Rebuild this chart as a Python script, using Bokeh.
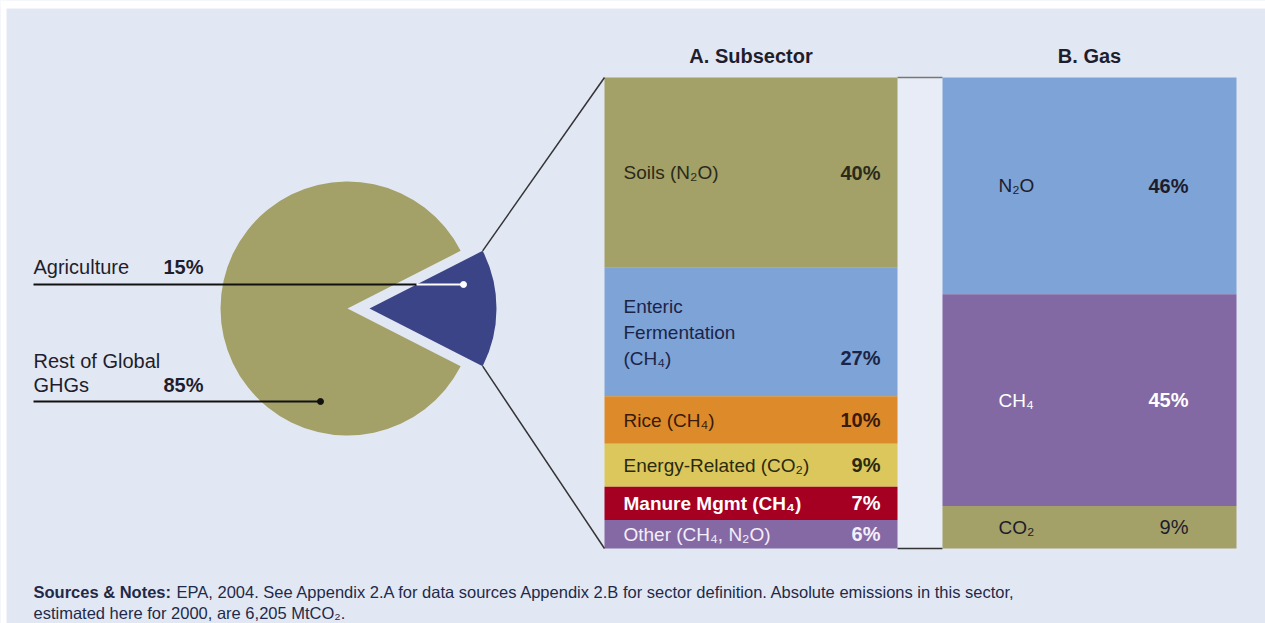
import math
from bokeh.plotting import figure
from bokeh.models import Range1d, ColumnDataSource
from bokeh.core.properties import value
from bokeh.embed import file_html
from bokeh.resources import INLINE

# ---------------- data ----------------
pie_labels = ["Agriculture", "Rest of Global\nGHGs"]
pie_values = [15, 85]

sub_labels = ["Soils (N₂O)", "Enteric\nFermentation\n(CH₄)", "Rice (CH₄)",
              "Energy-Related (CO₂)", "Manure Mgmt (CH₄)", "Other (CH₄, N₂O)"]
sub_values = [40, 27, 10, 9, 7, 6]

gas_labels = ["N₂O", "CH₄", "CO₂"]
gas_values = [46, 45, 9]

titles = ["A. Subsector", "B. Gas"]
note_bold = "Sources & Notes:"
note_lines = ["EPA, 2004. See Appendix 2.A for data sources Appendix 2.B for sector definition. Absolute emissions in this sector,",
              "estimated here for 2000, are 6,205 MtCO₂."]

# ---------------- styles ----------------
BG = "#e2e8f3"
FONT = "Liberation Sans"
OLIVE = "#a3a068"
NAVY = "#3a4487"
sub_colors = [OLIVE, "#7ea3d6", "#dd8a2b", "#dcc75c", "#a50022", "#8569a4"]
sub_text = ["#2a2a1a", "#1b2447", "#3a1a08", "#2a2a10", "#ffffff", "#f3eefa"]
sub_label_bold = [False, False, False, False, True, False]
gas_colors = ["#7ea3d6", "#8369a3", OLIVE]
gas_text = ["#1c1c2c", "#ffffff", "#1c1c2c"]
gas_pct_bold = [True, True, False]
DARK = "#1e1e2e"

W, H = 1265, 623
def py(page_y):
    return H - page_y

p = figure(width=W, height=H, x_range=Range1d(0, W), y_range=Range1d(0, H),
           output_backend="svg", toolbar_location=None, min_border=0,
           x_axis_type=None, y_axis_type=None)
p.grid.visible = False
p.outline_line_color = None
p.background_fill_color = BG
p.border_fill_color = "#ffffff"

# white page margin strips as in the reference
p.quad(left=[0, 0], right=[6, W], bottom=[0, py(8)], top=[H, H], fill_color="#ffffff", line_color=None)

# bar ranges (percent scale mapped onto bar extent)
BAR_TOP, BAR_BOT = 77, 548
def pct_range(total):
    ppu = (BAR_BOT - BAR_TOP) / total
    return Range1d(-(H - BAR_BOT) / ppu, total + BAR_TOP / ppu)

p.extra_y_ranges = {"A": pct_range(sum(sub_values)), "B": pct_range(sum(gas_values))}

def stack(vals):
    acc = sum(vals)
    tops, bots = [], []
    for v in vals:
        tops.append(acc)
        acc -= v
        bots.append(acc)
    return tops, bots

A_L, A_R = 604, 897
B_L, B_R = 942, 1236
tA, bA = stack(sub_values)
tB, bB = stack(gas_values)

# gap panel between bars
p.quad(left=[A_R], right=[B_L], top=[sum(sub_values)], bottom=[0], fill_color="#e7ecf6",
       line_color=None, y_range_name="A")
p.segment(x0=[A_R], x1=[B_L], y0=[sum(sub_values)], y1=[sum(sub_values)], line_color="#777777",
          line_width=1.5, y_range_name="A")
p.segment(x0=[A_R], x1=[B_L], y0=[0], y1=[0], line_color="#333333", line_width=1.5, y_range_name="A")

p.quad(left=A_L, right=A_R, top=tA, bottom=bA, fill_color=sub_colors, line_color=None, y_range_name="A")
p.quad(left=B_L, right=B_R, top=tB, bottom=bB, fill_color=gas_colors, line_color=None, y_range_name="B")

def add_text(items, rng=None, align="left", bold=False, size="19px"):
    if not items:
        return
    src = ColumnDataSource(dict(x=[i[0] for i in items], y=[i[1] for i in items],
                                t=[i[2] for i in items], yo=[i[3] for i in items],
                                c=[i[4] for i in items]))
    kw = {}
    if rng:
        kw["y_range_name"] = rng
    p.text(x="x", y="y", text="t", y_offset="yo", text_color="c", source=src,
           text_font=value(FONT), text_font_size=size, text_align=align,
           text_baseline="middle", text_font_style="bold" if bold else "normal", **kw)

LS = 26
# Subsector labels
lab_n, lab_b, pct_b = [], [], []
for i, lab in enumerate(sub_labels):
    mid = (tA[i] + bA[i]) / 2
    lines = lab.split("\n")
    n = len(lines)
    for j, ln in enumerate(lines):
        item = (623, mid, ln, (j - (n - 1) / 2) * LS, sub_text[i])
        (lab_b if sub_label_bold[i] else lab_n).append(item)
    pct_b.append((880, mid, f"{sub_values[i]}%", (n - 1) / 2 * LS, sub_text[i]))
add_text(lab_n, "A")
add_text(lab_b, "A", bold=True)
add_text(pct_b, "A", align="right", bold=True, size="20px")

# Gas labels
g_lab, g_pb, g_pn = [], [], []
for i, lab in enumerate(gas_labels):
    mid = (tB[i] + bB[i]) / 2
    g_lab.append((998, mid, lab, 0, gas_text[i]))
    (g_pb if gas_pct_bold[i] else g_pn).append((1188, mid, f"{gas_values[i]}%", 0, gas_text[i]))
add_text(g_lab, "B")
add_text(g_pb, "B", align="right", bold=True, size="20px")
add_text(g_pn, "B", align="right", size="20px")

# Titles
add_text([((A_L + A_R) / 2, py(55), titles[0], 0, DARK), ((B_L + B_R) / 2, py(55), titles[1], 0, DARK)],
         align="center", bold=True, size="20px")

# ---------------- pie ----------------
CX, CY, R, EXPLODE = 347, py(308), 127, 22
total = sum(pie_values)
h = math.pi * pie_values[0] / total  # half angle of agriculture slice
BX = CX + EXPLODE
p.wedge(x=[BX, CX], y=[CY, CY], radius=R, start_angle=[-h, h], end_angle=[h, 2 * math.pi - h],
        fill_color=[NAVY, OLIVE], line_color=None)

# connectors from wedge to subsector bar
corner_top = (BX + R * math.cos(h), CY + R * math.sin(h))
corner_bot = (BX + R * math.cos(h), CY - R * math.sin(h))
p.segment(x0=[corner_top[0], corner_bot[0]], y0=[corner_top[1], corner_bot[1]],
          x1=[A_L, A_L], y1=[py(BAR_TOP), py(BAR_BOT)], line_color="#333333", line_width=1.5)

# leader lines
agr_y = py(284)
edge_x = BX + (agr_y - CY) / math.tan(h)
p.segment(x0=[33], y0=[agr_y], x1=[edge_x], y1=[agr_y], line_color="#111111", line_width=2)
p.segment(x0=[edge_x], y0=[agr_y], x1=[463], y1=[agr_y], line_color="#ffffff", line_width=2)
p.scatter(x=[463], y=[agr_y], size=6, color="#ffffff")
rest_y = py(401)
p.segment(x0=[33], y0=[rest_y], x1=[320], y1=[rest_y], line_color="#111111", line_width=2)
p.scatter(x=[320], y=[rest_y], size=6, color="#111111")

# pie labels
pl = []
lines0 = pie_labels[0].split("\n")
pl.append((33, py(266), lines0[0], 0, DARK))
lines1 = pie_labels[1].split("\n")
pl.append((33, py(384), lines1[0], -24, DARK))
pl.append((33, py(384), lines1[1], 0, DARK))
add_text(pl, size="20px")
add_text([(203, py(266), f"{pie_values[0]}%", 0, DARK), (203, py(384), f"{pie_values[1]}%", 0, DARK)],
         align="right", bold=True, size="20px")

# notes
NOTE = "#1f2a4a"
add_text([(33, py(591), note_bold, 0, NOTE)], bold=True, size="16.5px")
add_text([(176, py(591), note_lines[0], 0, NOTE), (33, py(612), note_lines[1], 0, NOTE)], size="16.5px")

open("out.html", "w").write(file_html(p, INLINE))
